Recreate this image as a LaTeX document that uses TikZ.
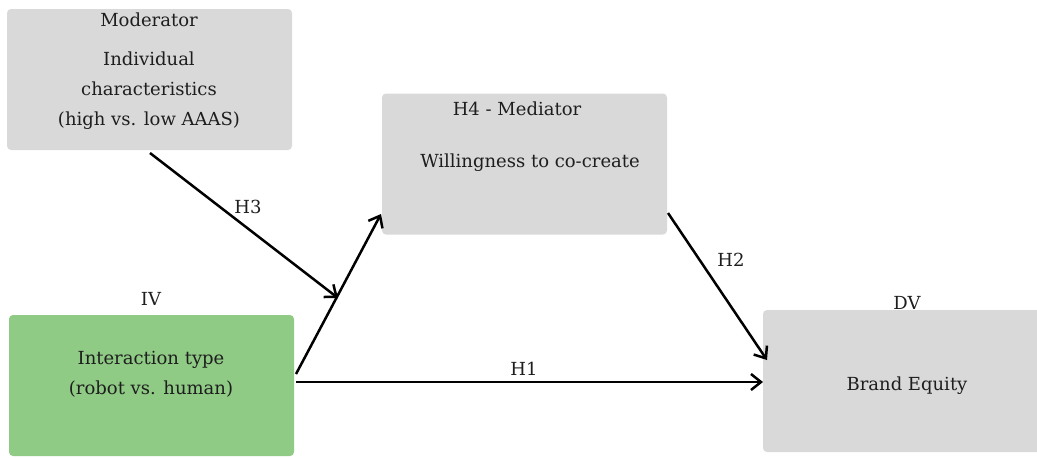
\documentclass[tikz,border=0pt]{standalone}
\usepackage{fontspec}
\setmainfont{DejaVu Serif}
\usetikzlibrary{arrows.meta}
\definecolor{boxgray}{RGB}{217,217,217}
\definecolor{boxgreen}{RGB}{143,203,133}
\definecolor{txt}{RGB}{30,30,30}
\tikzset{
  box/.style={fill=#1, rounded corners=2pt, minimum width=142.5pt, minimum height=70.5pt, inner sep=0pt, draw=none},
  lbl/.style={text=txt, font=\fontsize{9}{15}\selectfont, align=center, inner sep=0pt},
  conn/.style={line width=1.25pt, -{Straight Barb[length=5pt,width=8pt,line width=1.25pt]}},
}
\begin{document}
\begin{tikzpicture}[x=0.5pt,y=-0.5pt]
\useasboundingbox (0,0) rectangle (1037,457);
\clip (0,0) rectangle (1037,457);
% boxes
\node[box=boxgray] (mod) at (149.5,79.5) {};
\node[box=boxgray] (med) at (524.5,164) {};
\node[box=boxgreen] (iv) at (151.5,385.5) {};
\node[box=boxgray, minimum height=71pt] (dv) at (905.5,381) {};
% texts
\node[lbl] (modt) at (149,20) {Moderator};
\node[lbl] (modb) at (149,91) {Individual\\characteristics\\(high vs. low AAAS)};
\node[lbl] (medt) at (517,109) {H4 - Mediator};
\node[lbl] (medb) at (530,163) {Willingness to co-create};
\node[lbl] (ivt) at (151,299) {IV};
\node[lbl] (ivb) at (151,374.5) {Interaction type\\(robot vs. human)};
\node[lbl] (dvt) at (907,303) {DV};
\node[lbl] (dvb) at (907,386) {Brand Equity};
% connector anchor points
\coordinate (ivA) at (296,374);
\coordinate (medA) at (381,214);
\coordinate (modA) at (150,153);
\coordinate (mid) at (338,298);
\coordinate (medB) at (668,213);
\coordinate (dvA) at (767,360);
\coordinate (ivB) at (296,382);
\coordinate (dvB) at (763,382);
% connectors
\draw[conn] (ivA) -- (medA);
\draw[conn] (modA) -- (mid);
\draw[conn] (medB) -- (dvA);
\draw[conn] (ivB) -- (dvB);
% path labels
\node[lbl] (h3) at (248,207) {H3};
\node[lbl] (h2) at (731,260) {H2};
\node[lbl] (h1) at (524,369) {H1};
\end{tikzpicture}
\end{document}
